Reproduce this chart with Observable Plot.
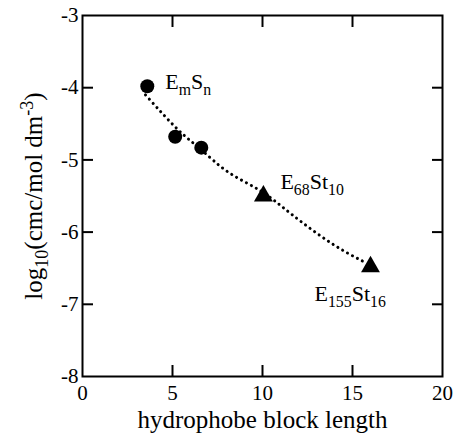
<!DOCTYPE html>
<html><head><meta charset="utf-8">
<script src="https://cdn.jsdelivr.net/npm/d3@7"></script>
<script src="https://cdn.jsdelivr.net/npm/@observablehq/plot@0.6"></script>
<style>body{margin:0;background:#fff} svg text{font-family:"Liberation Serif" !important;}</style>
</head><body><div id="chart"></div>
<script>
// Data
const emsnX = [3.6, 5.15, 6.6];
const emsnY = [-3.98, -4.68, -4.83];
const stX = [10.05, 16.0];
const stY = [-5.5, -6.48];
const curveX = [3.5, 5.3, 6.6, 8.1, 9.9, 11.6, 13.8, 15.7];
const curveY = [-4.1, -4.58, -4.86, -5.17, -5.43, -5.75, -6.15, -6.42];
const xTickLabels = [0, 5, 10, 15, 20];
const xTicksInner = [5, 10, 15];
const yTickLabels = [-3, -4, -5, -6, -7, -8];
const yTicksInner = [-4, -5, -6, -7];
const labels = ["E_{m}S_{n}", "E_{68}St_{10}", "E_{155}St_{16}"];
const labelX = [emsnX[0], stX[0], stX[1]];
const labelY = [emsnY[0], stY[0], stY[1]];

const circles = emsnX.map((x, i) => ({x, y: emsnY[i]}));
const tris = stX.map((x, i) => ({x, y: stY[i]}));
const curve = curveX.map((x, i) => ({x, y: curveY[i]}));
const FF = "Liberation Serif";
const blank = () => "";

const chart = Plot.plot({
  width: 460, height: 435,
  marginLeft: 82, marginRight: 18, marginTop: 15, marginBottom: 59,
  style: "font-family: 'Liberation Serif'; font-size: 20px; background: white; color: black;",
  x: {domain: [0, 20]},
  y: {domain: [-8, -3]},
  marks: [
    Plot.frame({stroke: "black", strokeWidth: 2}),
    Plot.axisX({anchor: "bottom", ticks: xTicksInner, tickSize: 11, dy: -11, strokeWidth: 2, tickFormat: blank, label: null}),
    Plot.axisX({anchor: "top", ticks: xTicksInner, tickSize: 11, dy: 11, strokeWidth: 2, tickFormat: blank, label: null}),
    Plot.axisY({anchor: "left", ticks: yTicksInner, tickSize: 11, dx: 11, strokeWidth: 2, tickFormat: blank, label: null}),
    Plot.axisY({anchor: "right", ticks: yTicksInner, tickSize: 11, dx: -11, strokeWidth: 2, tickFormat: blank, label: null}),
    Plot.axisX({anchor: "bottom", ticks: xTickLabels, tickSize: 0, tickPadding: 9, tickFormat: d => String(d),
      fontFamily: FF, fontSize: 21,
      label: "hydrophobe block length", labelAnchor: "center", labelOffset: 51, labelArrow: "none"}),
    Plot.axisY({anchor: "left", ticks: yTickLabels, tickSize: 0, tickPadding: 4, tickFormat: d => String(d),
      fontFamily: FF, fontSize: 21,
      label: "log_{10}(cmc/mol dm^{-3})", labelAnchor: "center", labelOffset: 58, labelArrow: "none"}),
    Plot.line(curve, {x: "x", y: "y", curve: "natural", stroke: "black", strokeWidth: 3,
      strokeDasharray: "0.1,5.5", strokeLinecap: "round"}),
    Plot.dot(circles, {x: "x", y: "y", r: 7, fill: "black", symbol: "circle"}),
    Plot.dot(tris, {x: "x", y: "y", r: 7, fill: "black", symbol: "triangle"}),
    Plot.text([{t: labels[0], x: labelX[0], y: labelY[0]}], {x: "x", y: "y", text: "t", textAnchor: "start", fontFamily: FF, fontSize: 22, dx: 18, dy: -4}),
    Plot.text([{t: labels[1], x: labelX[1], y: labelY[1]}], {x: "x", y: "y", text: "t", textAnchor: "start", fontFamily: FF, fontSize: 22, dx: 17, dy: -14}),
    Plot.text([{t: labels[2], x: labelX[2], y: labelY[2]}], {x: "x", y: "y", text: "t", textAnchor: "start", fontFamily: FF, fontSize: 22, dx: -56, dy: 27})
  ]
});

// axis label font size
chart.querySelectorAll("text").forEach(el => {
  const s = el.textContent;
  if (s === "hydrophobe block length" || s.startsWith("log_")) {
    el.setAttribute("font-size", "25");
  }
});

// Convert _{..} and ^{..} markup into sub/superscript tspans
const NS = "http://www.w3.org/2000/svg";
chart.querySelectorAll("text").forEach(el => {
  const s = el.textContent;
  if (!/[_^]\{/.test(s)) return;
  while (el.firstChild) el.removeChild(el.firstChild);
  const re = /([_^])\{([^}]*)\}|([^_^]+)/g;
  let m, off = 0;
  while ((m = re.exec(s))) {
    const t = document.createElementNS(NS, "tspan");
    if (m[3]) {
      t.textContent = m[3];
      if (off) { t.setAttribute("dy", -off); off = 0; }
    } else {
      const shift = m[1] === "_" ? 6 : -9;
      t.textContent = m[2];
      t.setAttribute("font-size", "0.72em");
      t.setAttribute("dy", shift - off);
      off = shift;
    }
    el.appendChild(t);
  }
});
document.getElementById("chart").appendChild(chart);
</script>
</body></html>
